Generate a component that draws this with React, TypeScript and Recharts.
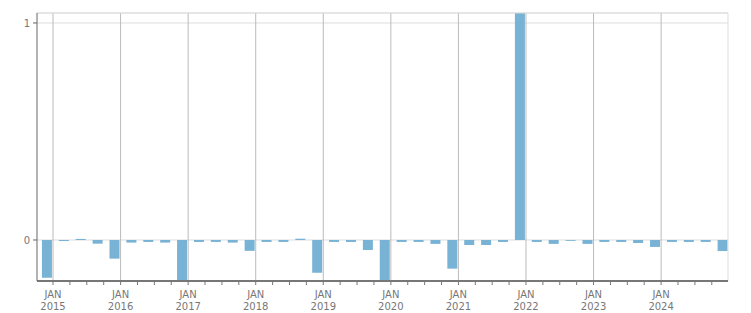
import React from "react";
import {
  BarChart,
  Bar,
  XAxis,
  YAxis,
  CartesianGrid,
  ReferenceLine,
} from "recharts";

// quarter-end months, Dec 2014 .. Dec 2024
const periods = [
  "2014-12",
  "2015-03", "2015-06", "2015-09", "2015-12",
  "2016-03", "2016-06", "2016-09", "2016-12",
  "2017-03", "2017-06", "2017-09", "2017-12",
  "2018-03", "2018-06", "2018-09", "2018-12",
  "2019-03", "2019-06", "2019-09", "2019-12",
  "2020-03", "2020-06", "2020-09", "2020-12",
  "2021-03", "2021-06", "2021-09", "2021-12",
  "2022-03", "2022-06", "2022-09", "2022-12",
  "2023-03", "2023-06", "2023-09", "2023-12",
  "2024-03", "2024-06", "2024-09", "2024-12",
];

const values = [
  -0.174,
  -0.005, 0.005, -0.017, -0.086,
  -0.012, -0.009, -0.012, -0.2,
  -0.009, -0.009, -0.012, -0.05,
  -0.009, -0.009, 0.006, -0.151,
  -0.009, -0.009, -0.046, -0.2,
  -0.009, -0.009, -0.018, -0.132,
  -0.023, -0.023, -0.009, 1.1,
  -0.009, -0.018, -0.004, -0.018,
  -0.009, -0.009, -0.014, -0.032,
  -0.009, -0.009, -0.009, -0.051,
];

const years = [2015, 2016, 2017, 2018, 2019, 2020, 2021, 2022, 2023, 2024];
const yTicks = [0, 1];

const X_MIN = 2014.763;
const X_MAX = 2024.99;
const Y_MIN = -0.189;
const Y_MAX = 1.046;

const data = periods.map((p, i) => {
  const [y, m] = p.split("-").map(Number);
  return { t: y + (m - 1) / 12, value: values[i] };
});

const quarterTicks = years.flatMap((y) => [y, y + 0.25, y + 0.5, y + 0.75]);

const FONT = "DejaVu Sans";

const YearTick = (props: any) => {
  const { x, y, payload } = props;
  const v = payload.value;
  if (!Number.isInteger(v)) return <g />;
  return (
    <text x={x} y={y} textAnchor="middle" fill="#777" fontSize={10} fontFamily={FONT}>
      <tspan x={x} dy={11}>JAN</tspan>
      <tspan x={x} dy={12}>{v}</tspan>
    </text>
  );
};

export default function App() {
  return (
    <div style={{ position: "absolute", left: 0, top: 0 }}>
      <BarChart
        width={751}
        height={313}
        data={data}
        margin={{ top: 13, right: 23, bottom: 0, left: 0 }}
      >
        <CartesianGrid vertical={false} stroke="#dddddd" />
        <XAxis
          dataKey="t"
          type="number"
          domain={[X_MIN, X_MAX]}
          allowDataOverflow
          ticks={quarterTicks}
          interval={0}
          height={32}
          tick={<YearTick />}
          tickSize={4}
          stroke="#777"
          axisLine={{ stroke: "#777", strokeWidth: 2 }}
          tickLine={{ stroke: "#777" }}
        />
        <YAxis
          type="number"
          domain={[Y_MIN, Y_MAX]}
          allowDataOverflow
          ticks={yTicks}
          width={37}
          tickSize={4}
          tickMargin={3}
          stroke="#666"
          tick={{ fill: "#777", fontSize: 10, fontFamily: FONT }}
        />
        {years.map((y) => (
          <ReferenceLine key={y} x={y} stroke="#bbbbbb" />
        ))}
        <ReferenceLine y={Y_MAX} stroke="#dddddd" />
        <ReferenceLine x={X_MAX} stroke="#dddddd" />
        <Bar dataKey="value" fill="#78b2d4" barSize={10} isAnimationActive={false} />
      </BarChart>
    </div>
  );
}
